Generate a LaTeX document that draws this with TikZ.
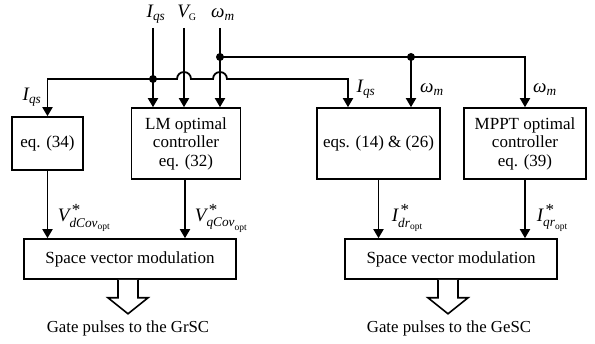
\documentclass[tikz,border=0pt]{standalone}
\usepackage{fontspec}
\setmainfont{Liberation Serif}
\usepackage{amsmath}
\usetikzlibrary{arrows.meta}
\newcommand{\vsym}[2]{$\textit{#1}_{\textit{#2}}$}
\newcommand{\bigstar}{\text{\fontsize{17}{17}\selectfont *}}
\begin{document}
\begin{tikzpicture}[x=1pt,y=-1pt,
  line width=1.8pt,
  box/.style={draw, line width=1.6pt, fill=white, align=center, inner sep=0pt, font=\fontsize{17}{18.5}\selectfont},
  lab/.style={inner sep=0pt, anchor=base, font=\fontsize{19}{21}\selectfont},
  gate/.style={inner sep=0pt, anchor=base, font=\fontsize{16.8}{18}\selectfont},
  labw/.style={inner sep=0pt, anchor=base west, font=\fontsize{19}{21}\selectfont},
  arr/.style={-{Triangle[width=10pt,length=9pt]}},
  dot/.style={circle, fill, inner sep=0pt, minimum size=8pt},
  hollow/.style={draw, line width=1.6pt, fill=white, line join=miter},
]
\useasboundingbox (0,0) rectangle (595,344);

% boxes
\node[box, minimum width=71pt, minimum height=53pt] (eq34) at (47.5,143.5) {eq. (34)};
\node[box, minimum width=109pt, minimum height=71pt] (lm) at (186,143.5) {LM optimal\\controller\\eq. (32)};
\node[box, minimum width=123pt, minimum height=71pt] (eqs) at (378.5,143.5) {eqs. (14) \& (26)};
\node[box, minimum width=122pt, minimum height=71pt] (mppt) at (525,143.5) {MPPT optimal\\controller\\eq. (39)};
\node[box, minimum width=212pt, minimum height=40pt] (svm1) at (130,259) {Space vector modulation};
\node[box, minimum width=212pt, minimum height=40pt] (svm2) at (451,259) {Space vector modulation};

% input coordinates
\coordinate (tI) at (153,28);
\coordinate (tV) at (184,28);
\coordinate (tW) at (220,28);
\coordinate (jW) at (220,57);
\coordinate (jI) at (153,79);
\coordinate (jW2) at (411,57);
\coordinate (cI) at (348,79);
\coordinate (cW) at (525,57);

% top inputs
\draw[arr] (tI) -- (tI |- lm.north);
\draw[arr] (tV) -- (tV |- lm.north);
\draw[arr] (tW) -- (tW |- lm.north);

% I_qs bus
\draw[arr] (jI) -- (eq34.north |- jI) -- (eq34.north);
\draw[arr] (jI) -- (177,79) arc[start angle=180,end angle=0,radius=7pt]
  -- (213,79) arc[start angle=180,end angle=0,radius=7pt]
  -- (cI) -- (cI |- eqs.north);

% omega bus
\draw[arr] (jW) -- (cW) -- (cW |- mppt.north);
\draw[arr] (jW2) -- (jW2 |- eqs.north);

\node[dot] at (jW) {};
\node[dot] at (jI) {};
\node[dot] at (jW2) {};

% outputs
\draw[arr] (eq34.south) -- (eq34.south |- svm1.north);
\draw[arr] (185,0 |- lm.south) -- (185,0 |- svm1.north);
\draw[arr] (eqs.south) -- (eqs.south |- svm2.north);
\draw[arr] (mppt.south) -- (mppt.south |- svm2.north);

% hollow arrows
\draw[hollow, shift={(svm1.south)}] (-12,0) -- (-12,18) -- (-22,18) -- (-2,34) -- (18,18) -- (8,18) -- (8,0);
\draw[hollow, shift={(svm2.south)}] (-13,0) -- (-13,18) -- (-23,18) -- (-3,34) -- (17,18) -- (7,18) -- (7,0);

\node[gate] (g1) at (128,333) {Gate pulses to the GrSC};
\node[gate] (g2) at (449,333) {Gate pulses to the GeSC};

% labels
\node[lab] (l1) at (156,18) {\vsym{I}{qs}};
\node[lab] (l2) at (187,18) {$\textit{V}_{\text{\fontsize{10}{10}\selectfont G}}$};
\node[lab] (l3) at (223,18) {\vsym{ω}{m}};
\node[lab] (l4) at (32,101) {\vsym{I}{qs}};
\node[lab] (l5) at (366,93) {\vsym{I}{qs}};
\node[lab] (l6) at (432,93) {\vsym{ω}{m}};
\node[lab] (l7) at (545,93) {\vsym{ω}{m}};
\node[labw] (l8) at (57,222) {$\textit{V}^{\,\bigstar}_{\textit{dCov}_{\text{opt}}}$};
\node[labw] (l9) at (194,222) {$\textit{V}^{\,\bigstar}_{\textit{qCov}_{\text{opt}}}$};
\node[labw] (l10) at (391,222) {$\textit{I}^{\,\bigstar}_{\textit{dr}_{\text{opt}}}$};
\node[labw] (l11) at (536,222) {$\textit{I}^{\,\bigstar}_{\textit{qr}_{\text{opt}}}$};
\end{tikzpicture}
\end{document}
